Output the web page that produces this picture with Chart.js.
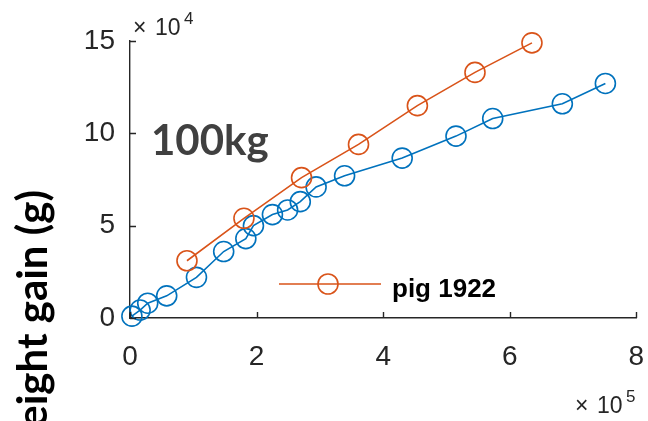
<!DOCTYPE html>
<html>
<head>
<meta charset="utf-8">
<script src="https://cdn.jsdelivr.net/npm/chart.js@4.4.1/dist/chart.umd.min.js"></script>
<style>
  html, body { margin: 0; padding: 0; background: #fff; }
  #wrap { width: 648px; height: 421px; }
</style>
</head>
<body>
<div id="wrap"><canvas id="gain-chart" width="648" height="421"></canvas></div>
<script>
// cumulative intake (x) vs weight gain in grams (y)
const intakeBlue = [3000, 16000, 28000, 58000, 105000, 148000, 183000, 195000, 225000, 249000, 269000, 294000, 339000, 430000, 515000, 573000, 683000, 751000];
const gainBlue   = [1000, 4300, 8000, 12000, 22000, 36000, 43000, 50000, 56000, 58500, 63000, 71000, 77000, 86600, 98500, 108000, 116000, 127000];

const intakePig1922 = [90000, 180000, 271000, 361000, 454000, 545000, 635000];
const gainPig1922   = [31000, 54000, 76000, 94000, 115000, 133000, 149000];

const xTicks = [0, 2, 4, 6, 8];      // x 10^5
const yTicks = [0, 5, 10, 15];       // x 10^4

const BLUE = '#0072BD';
const ORANGE = '#D95319';
const AXIS = '#262626';

const toPoints = (xs, ys) => xs.map((v, i) => ({x: v, y: ys[i]}));

// inward tick marks, exponent labels, legend and annotations
const extras = {
  id: 'extras',
  afterDraw(chart) {
    const {ctx, chartArea: a, scales: {x, y}} = chart;
    ctx.save();
    ctx.strokeStyle = AXIS;
    ctx.lineWidth = 1.4;
    ctx.beginPath();
    xTicks.forEach(t => {
      const px = Math.round(x.getPixelForValue(t * 1e5)) + 0.5;
      ctx.moveTo(px, a.bottom); ctx.lineTo(px, a.bottom - 6);
    });
    yTicks.forEach(t => {
      const py = Math.round(y.getPixelForValue(t * 1e4)) + 0.5;
      ctx.moveTo(a.left, py); ctx.lineTo(a.left + 6, py);
    });
    ctx.stroke();

    // exponent labels
    ctx.fillStyle = AXIS;
    ctx.textBaseline = 'alphabetic';
    ctx.textAlign = 'left';
    const expo = (left, base, p) => {
      ctx.font = '23px "Liberation Sans", Arial, sans-serif';
      ctx.fillText('\u00d7', left, base);
      ctx.fillText('10', left + 22, base);
      ctx.font = '17px "Liberation Sans", Arial, sans-serif';
      ctx.fillText(p, left + 51, base - 11);
    };
    expo(133, 35, '4');
    expo(575, 413, '5');

    // legend
    ctx.strokeStyle = ORANGE;
    ctx.lineWidth = 1.6;
    ctx.beginPath();
    ctx.moveTo(279, 284); ctx.lineTo(381, 284);
    ctx.stroke();
    ctx.beginPath();
    ctx.arc(328, 284, 10, 0, Math.PI * 2);
    ctx.stroke();
    ctx.fillStyle = '#000';
    ctx.font = 'bold 26px "Liberation Sans", Arial, sans-serif';
    ctx.fillText('pig 1922', 392, 297);

    // weight tag
    ctx.fillStyle = '#404040';
    ctx.font = 'bold 42px Lato, sans-serif';
    ctx.fillText('100kg', 151, 155);

    // y axis title, runs off the bottom edge
    ctx.fillStyle = '#000';
    ctx.font = 'bold 42px Lato, sans-serif';
    ctx.translate(47, 190);
    ctx.rotate(-Math.PI / 2);
    ctx.textAlign = 'right';
    ctx.fillText('Weight gain (g)', 0, 0);
    ctx.restore();
  }
};

new Chart(document.getElementById('gain-chart').getContext('2d'), {
  type: 'line',
  data: {
    datasets: [
      {
        label: 'pig 1922',
        data: toPoints(intakePig1922, gainPig1922),
        borderColor: ORANGE,
        borderWidth: 1.6,
        pointStyle: 'circle',
        pointRadius: 10,
        pointBorderWidth: 1.6,
        pointBorderColor: ORANGE,
        pointBackgroundColor: 'rgba(0,0,0,0)',
        fill: false,
        tension: 0,
        clip: false
      },
      {
        label: 'other',
        data: toPoints(intakeBlue, gainBlue),
        borderColor: BLUE,
        borderWidth: 1.6,
        pointStyle: 'circle',
        pointRadius: 10,
        pointBorderWidth: 1.6,
        pointBorderColor: BLUE,
        pointBackgroundColor: 'rgba(0,0,0,0)',
        fill: false,
        tension: 0,
        clip: false
      }
    ]
  },
  options: {
    responsive: false,
    animation: false,
    layout: { padding: { top: 41, right: 10, left: 0, bottom: 0 } },
    plugins: {
      legend: { display: false },
      tooltip: { enabled: false }
    },
    scales: {
      x: {
        type: 'linear',
        min: 0,
        max: 8e5,
        afterBuildTicks: s => { s.ticks = xTicks.map(v => ({value: v * 1e5})); },
        afterFit: s => { s.height = 103; s.paddingLeft = 0; s.paddingRight = 0; },
        grid: { display: false, drawTicks: false },
        border: { display: true, color: AXIS, width: 1.4 },
        ticks: {
          color: AXIS,
          padding: 22,
          maxRotation: 0,
          font: { family: '"Liberation Sans", Arial, sans-serif', size: 28 },
          callback: v => String(v / 1e5)
        }
      },
      y: {
        type: 'linear',
        min: 0,
        max: 15e4,
        afterBuildTicks: s => { s.ticks = yTicks.map(v => ({value: v * 1e4})); },
        afterFit: s => { s.width = 130; s.paddingTop = 0; s.paddingBottom = 0; },
        grid: { display: false, drawTicks: false },
        border: { display: true, color: AXIS, width: 1.4 },
        ticks: {
          color: AXIS,
          padding: 15,
          font: { family: '"Liberation Sans", Arial, sans-serif', size: 28 },
          callback: v => String(v / 1e4)
        }
      }
    }
  },
  plugins: [extras]
});
</script>
</body>
</html>
